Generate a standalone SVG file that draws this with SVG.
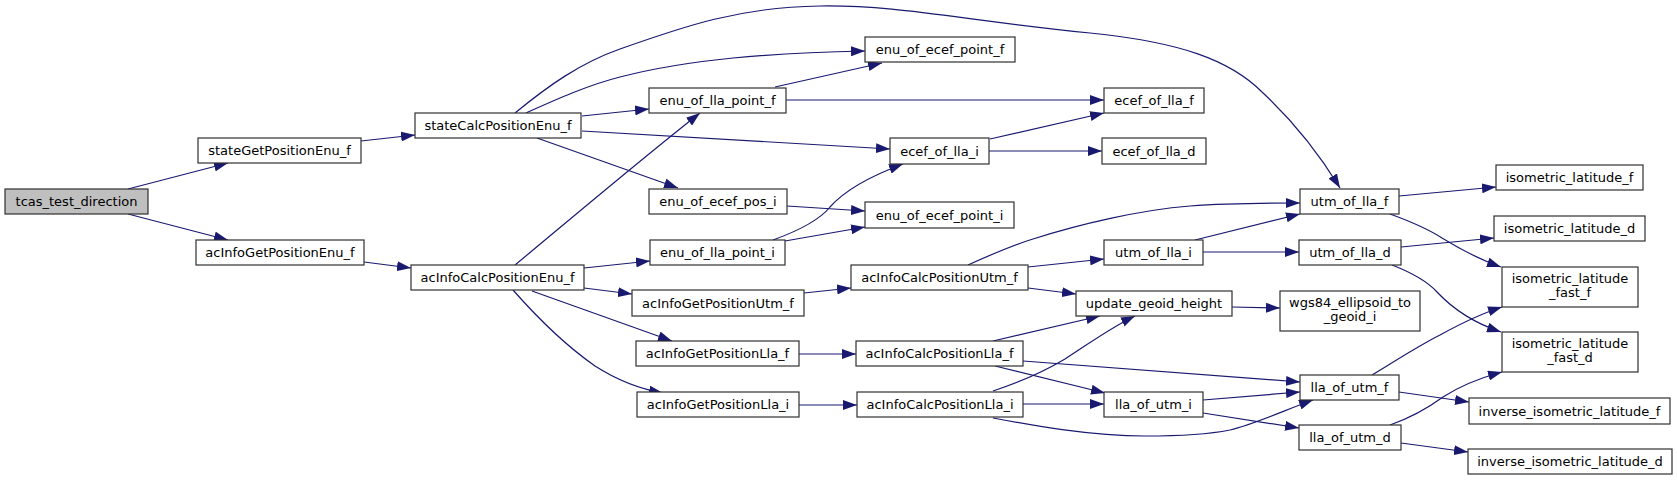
<svg xmlns="http://www.w3.org/2000/svg" width="1677" height="481" viewBox="0 0 1677 481">
<style>
.n rect{fill:#ffffff;stroke:#303030;stroke-width:1.2}
.n text{font-family:"DejaVu Sans",sans-serif;font-size:13px;fill:#000;text-anchor:middle}
#root rect{fill:#bfbfbf}
.e path{fill:none;stroke:#191970;stroke-width:1.2;marker-end:url(#ah)}
</style>
<defs>
<marker id="ah" markerUnits="userSpaceOnUse" viewBox="0 0 14 10" refX="14" refY="5" markerWidth="14" markerHeight="10" orient="auto">
<path d="M0,0 L14,5 L0,10 z" fill="#191970"/>
</marker>
</defs>
<rect width="1677" height="481" fill="#ffffff"/>
<g id="edges" class="e">
<path d="M128,189 L228,163"/>
<path d="M128,214 L228,240"/>
<path d="M361,141 L415,135"/>
<path d="M364,262 L411,268"/>
<path d="M515,113 C548,86 580,63 620,49 C685,26 740,7 820,6 C900,5 960,20 1090,33 C1180,42 1230,60 1262,92 C1290,118 1318,152 1340,188"/>
<path d="M526,113 C555,100 588,85 620,77 C690,59 770,53 865,51"/>
<path d="M582,116 L649,109"/>
<path d="M582,131 L890,149"/>
<path d="M537,138 L678,188"/>
<path d="M775,87 L882,63"/>
<path d="M786,100 L1104,100"/>
<path d="M515,265 C555,232 640,160 700,113"/>
<path d="M584,268 L650,261"/>
<path d="M584,288 L632,294"/>
<path d="M532,291 L672,341"/>
<path d="M513,290 C535,315 565,345 595,366 C620,382 640,389 663,393"/>
<path d="M787,206 L865,211"/>
<path d="M773,240 C795,232 818,222 830,207 C845,190 868,177 903,164"/>
<path d="M785,241 L865,227"/>
<path d="M804,293 L851,288"/>
<path d="M799,354 L856,354"/>
<path d="M799,405 L857,405"/>
<path d="M968,265 C990,255 1010,246 1033,239 C1080,224 1140,210 1190,206 C1230,203 1260,203 1300,203"/>
<path d="M1028,267 L1104,259"/>
<path d="M1028,288 L1076,294"/>
<path d="M1195,240 L1300,214"/>
<path d="M1203,252 L1299,252"/>
<path d="M1232,307 L1280,308"/>
<path d="M993,341 L1100,316"/>
<path d="M1023,361 L1300,382"/>
<path d="M995,366 L1105,393"/>
<path d="M993,391 C1020,382 1045,371 1065,359 C1090,343 1110,328 1135,316"/>
<path d="M1023,404 L1104,404"/>
<path d="M993,418 C1030,425 1090,436 1145,436 C1180,436 1210,434 1230,430 C1255,424 1285,410 1313,400"/>
<path d="M1203,400 L1300,392"/>
<path d="M1203,413 L1299,428"/>
<path d="M1399,196 L1496,187"/>
<path d="M1390,214 C1412,222 1428,229 1442,238 C1460,249 1478,259 1501,267"/>
<path d="M1401,247 L1494,238"/>
<path d="M1392,265 C1410,272 1428,282 1437,292 C1452,308 1474,323 1501,332"/>
<path d="M1372,375 C1400,358 1420,345 1440,335 C1460,324 1480,314 1502,307"/>
<path d="M1399,392 L1469,402"/>
<path d="M1390,425 C1410,418 1428,408 1443,397 C1460,386 1480,378 1502,372"/>
<path d="M1401,443 L1468,452"/>
<path d="M990,139 L1104,113"/>
<path d="M989,151 L1102,151"/>
</g>
<g id="root" class="n"><rect x="5" y="189" width="143" height="25"/><text x="76.5" y="206">tcas_test_direction</text></g>
<g id="stateGetPositionEnu_f" class="n"><rect x="198" y="138" width="163" height="25"/><text x="279.5" y="155">stateGetPositionEnu_f</text></g>
<g id="acInfoGetPositionEnu_f" class="n"><rect x="196" y="240" width="168" height="25"/><text x="280" y="257">acInfoGetPositionEnu_f</text></g>
<g id="stateCalcPositionEnu_f" class="n"><rect x="415" y="113" width="166" height="25"/><text x="498" y="130">stateCalcPositionEnu_f</text></g>
<g id="acInfoCalcPositionEnu_f" class="n"><rect x="411" y="265" width="173" height="25"/><text x="497.5" y="282">acInfoCalcPositionEnu_f</text></g>
<g id="enu_of_lla_point_f" class="n"><rect x="649" y="88" width="137" height="25"/><text x="717.5" y="105">enu_of_lla_point_f</text></g>
<g id="enu_of_ecef_pos_i" class="n"><rect x="649" y="189" width="138" height="25"/><text x="718" y="206">enu_of_ecef_pos_i</text></g>
<g id="enu_of_lla_point_i" class="n"><rect x="650" y="240" width="135" height="25"/><text x="717.5" y="257">enu_of_lla_point_i</text></g>
<g id="acInfoGetPositionUtm_f" class="n"><rect x="632" y="290" width="172" height="26"/><text x="718" y="308">acInfoGetPositionUtm_f</text></g>
<g id="acInfoGetPositionLla_f" class="n"><rect x="636" y="341" width="163" height="25"/><text x="717.5" y="358">acInfoGetPositionLla_f</text></g>
<g id="acInfoGetPositionLla_i" class="n"><rect x="637" y="392" width="162" height="25"/><text x="718" y="409">acInfoGetPositionLla_i</text></g>
<g id="enu_of_ecef_point_f" class="n"><rect x="865" y="37" width="150" height="25"/><text x="940" y="54">enu_of_ecef_point_f</text></g>
<g id="ecef_of_lla_i" class="n"><rect x="890" y="138" width="99" height="26"/><text x="939.5" y="156">ecef_of_lla_i</text></g>
<g id="enu_of_ecef_point_i" class="n"><rect x="865" y="202" width="149" height="26"/><text x="939.5" y="220">enu_of_ecef_point_i</text></g>
<g id="acInfoCalcPositionUtm_f" class="n"><rect x="851" y="265" width="177" height="25"/><text x="939.5" y="282">acInfoCalcPositionUtm_f</text></g>
<g id="acInfoCalcPositionLla_f" class="n"><rect x="856" y="341" width="167" height="25"/><text x="939.5" y="358">acInfoCalcPositionLla_f</text></g>
<g id="acInfoCalcPositionLla_i" class="n"><rect x="857" y="392" width="166" height="25"/><text x="940" y="409">acInfoCalcPositionLla_i</text></g>
<g id="ecef_of_lla_f" class="n"><rect x="1104" y="88" width="100" height="25"/><text x="1154" y="105">ecef_of_lla_f</text></g>
<g id="ecef_of_lla_d" class="n"><rect x="1102" y="138" width="104" height="26"/><text x="1154" y="156">ecef_of_lla_d</text></g>
<g id="utm_of_lla_i" class="n"><rect x="1104" y="240" width="99" height="25"/><text x="1153.5" y="257">utm_of_lla_i</text></g>
<g id="update_geoid_height" class="n"><rect x="1076" y="291" width="156" height="25"/><text x="1154" y="308">update_geoid_height</text></g>
<g id="lla_of_utm_i" class="n"><rect x="1104" y="392" width="99" height="25"/><text x="1153.5" y="409">lla_of_utm_i</text></g>
<g id="utm_of_lla_f" class="n"><rect x="1300" y="189" width="99" height="25"/><text x="1349.5" y="206">utm_of_lla_f</text></g>
<g id="utm_of_lla_d" class="n"><rect x="1299" y="240" width="102" height="25"/><text x="1350" y="257">utm_of_lla_d</text></g>
<g id="wgs84_ellipsoid_to_geoid_i" class="n"><rect x="1280" y="291" width="140" height="40"/><text x="1350" y="307">wgs84_ellipsoid_to</text><text x="1350" y="321">_geoid_i</text></g>
<g id="lla_of_utm_f" class="n"><rect x="1300" y="375" width="99" height="25"/><text x="1349.5" y="392">lla_of_utm_f</text></g>
<g id="lla_of_utm_d" class="n"><rect x="1299" y="425" width="102" height="25"/><text x="1350" y="442">lla_of_utm_d</text></g>
<g id="isometric_latitude_f" class="n"><rect x="1496" y="165" width="147" height="25"/><text x="1569.5" y="182">isometric_latitude_f</text></g>
<g id="isometric_latitude_d" class="n"><rect x="1494" y="216" width="151" height="25"/><text x="1569.5" y="233">isometric_latitude_d</text></g>
<g id="isometric_latitude_fast_f" class="n"><rect x="1502" y="267" width="136" height="40"/><text x="1570" y="283">isometric_latitude</text><text x="1570" y="297">_fast_f</text></g>
<g id="isometric_latitude_fast_d" class="n"><rect x="1502" y="332" width="136" height="40"/><text x="1570" y="348">isometric_latitude</text><text x="1570" y="362">_fast_d</text></g>
<g id="inverse_isometric_latitude_f" class="n"><rect x="1469" y="398" width="201" height="26"/><text x="1569.5" y="416">inverse_isometric_latitude_f</text></g>
<g id="inverse_isometric_latitude_d" class="n"><rect x="1468" y="449" width="204" height="25"/><text x="1570" y="466">inverse_isometric_latitude_d</text></g>
</svg>
